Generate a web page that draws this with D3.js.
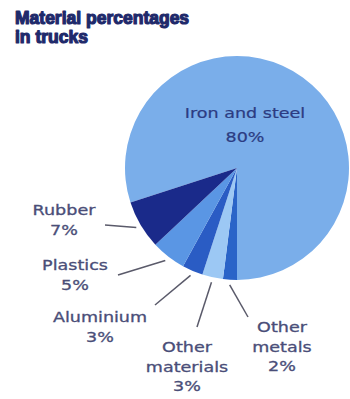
<!DOCTYPE html>
<html><head><meta charset="utf-8">
<script src="https://cdn.jsdelivr.net/npm/d3@7"></script>
<style>body{margin:0;background:#fff}svg{display:block}</style>
</head><body>
<svg id="c" width="350" height="399"></svg>
<script>
const categories = ["Iron and steel","Other metals","Other materials","Aluminium","Plastics","Rubber"];
const values = [80, 2, 3, 3, 5, 7];
const percentLabels = ["80%","2%","3%","3%","5%","7%"];
const colors = ["#7aaeea","#2a64c8","#9cc8f4","#2a5cc4","#5a96e4","#1a2a8a"];

// label layout (positions), separate from data
const labelLayout = {
  "Other metals":    {lines:["Other","metals"], x:282, y:332, lx:248, ly:317},
  "Other materials": {lines:["Other","materials"], x:187, y:352, lx:197, ly:327},
  "Aluminium":       {lines:["Aluminium"], x:100, y:322, lx:155, ly:305},
  "Plastics":        {lines:["Plastics"], x:75, y:270, lx:118, ly:275},
  "Rubber":          {lines:["Rubber"], x:64, y:215, lx:105, ly:225}
};

const svg = d3.select("#c");
const cx = 237, cy = 168, r = 112;
const data = categories.map((c,i)=>({cat:c, value:values[i], pct:percentLabels[i], color:colors[i]}));

// Title
const title = svg.append("g").attr("fill","#1f2a6b").attr("stroke","#1f2a6b").attr("stroke-width",1.2)
  .attr("stroke-linejoin","round")
  .style("font-family","'Liberation Sans', Arial, sans-serif").style("font-weight","bold").style("font-size","17.5px");
title.append("text").attr("x",15).attr("y",24).text("Material percentages");
title.append("text").attr("x",15).attr("y",43).text("in trucks");

// Pie: iron and steel ends at bottom (180deg) going clockwise; the rest follow clockwise from bottom
const startDeg = 252;
const pie = d3.pie().value(d=>d.value).sort(null)
  .startAngle(startDeg*Math.PI/180).endAngle((startDeg+360)*Math.PI/180);
const arcs = pie(data);
const arc = d3.arc().innerRadius(0).outerRadius(r);
const g = svg.append("g").attr("transform",`translate(${cx},${cy})`);
g.selectAll("path").data(arcs).join("path").attr("d",arc).attr("fill",d=>d.data.color);

// Leader lines
const edgeArc = d3.arc().innerRadius(r+5).outerRadius(r+5);
arcs.forEach(a=>{
  const L = labelLayout[a.data.cat];
  if(!L) return;
  const [ex,ey] = edgeArc.centroid(a);
  svg.append("line").attr("x1",cx+ex).attr("y1",cy+ey).attr("x2",L.lx).attr("y2",L.ly)
    .attr("stroke","#5a5a6a").attr("stroke-width",1.5);
});

// Labels
const lblFont = "'DejaVu Sans', Verdana, sans-serif";
arcs.forEach(a=>{
  const L = labelLayout[a.data.cat];
  if(!L) return;
  const lines = L.lines.concat([a.data.pct]);
  lines.forEach((t,i)=>{
    svg.append("text").attr("transform",`translate(${L.x},${L.y+i*19.5}) scale(1.3,1)`)
      .attr("text-anchor","middle").attr("fill","#4a4e78").attr("stroke","#4a4e78").attr("stroke-width",0.3)
      .style("font-family",lblFont).style("font-size","13.5px").text(t);
  });
});

// Iron label inside
const iron = arcs[0];
[iron.data.cat, iron.data.pct].forEach((t,i)=>{
  svg.append("text").attr("transform",`translate(245,${118+i*24}) scale(1.3,1)`)
    .attr("text-anchor","middle").attr("fill","#2c3c82").attr("stroke","#2c3c82").attr("stroke-width",0.2)
    .style("font-family",lblFont).style("font-size","13.5px").text(t);
});
</script>
</body></html>
